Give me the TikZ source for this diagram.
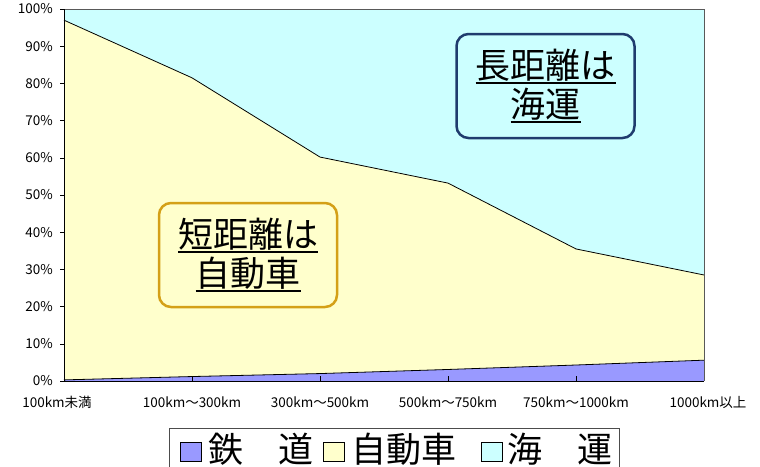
\documentclass[tikz,border=0pt]{standalone}
\usepackage{fontspec}
\setmainfont{Noto Sans CJK JP}
\definecolor{rail}{HTML}{9999FF}
\definecolor{car}{HTML}{FFFFCC}
\definecolor{sea}{HTML}{CCFFFF}
\definecolor{navy}{HTML}{1F3C6E}
\definecolor{gold}{HTML}{D4A017}
\newcommand{\ulbox}[1]{\setbox0\hbox{#1}\rlap{\rule[-6pt]{\wd0}{2.5pt}}\box0}

\begin{document}
\begin{tikzpicture}[x=1pt, y=-1pt,
	tick/.style = {font=\fontsize{13.5}{13.5}\selectfont, inner sep=0pt},
	note/.style = {draw, rounded corners=12pt, line width=2.5pt, minimum width=178pt, minimum height=104pt, align=center, font=\fontsize{35}{39}\selectfont},
	key/.style = {draw, line width=1pt, minimum width=21pt, minimum height=19pt, inner sep=0pt},
	keytext/.style = {anchor=west, font=\fontsize{35}{35}\selectfont, inner sep=0pt}]

		\useasboundingbox (0,0) rectangle (760,466);
		\fill[white] (0,0) rectangle (760,466);

		\begin{scope}[shift={(64,381)}, x=128pt, y=3.72pt]
			\fill[sea] (0,0) rectangle (5,100);
			\fill[car] (0,0) -- (0,97) -- (1,81.5) -- (2,60.2) -- (3,53.2) -- (4,35.5) -- (5,28.5) -- (5,0) -- cycle;
			\fill[rail] (0,0) -- (0,0.3) -- (1,1.2) -- (2,2) -- (3,3.1) -- (4,4.3) -- (5,5.6) -- (5,0) -- cycle;
			\draw[line width=0.8pt] (0,97) -- (1,81.5) -- (2,60.2) -- (3,53.2) -- (4,35.5) -- (5,28.5);
			\draw[line width=0.8pt] (0,0.3) -- (1,1.2) -- (2,2) -- (3,3.1) -- (4,4.3) -- (5,5.6);
			\draw[gray!70!black] (0,100) -- (5,100) -- (5,0);
			\draw (0,100) -- (0,0) -- (5,0);

			\foreach \p in {0,10,...,100} {
				\draw (0,\p) -- ++(-4pt,0);
				\node[tick, anchor=east] (y\p) at ([xshift=-11pt]0,\p) {\p\%};
			}
			\foreach \i in {1,...,4}
				\draw (\i,0) -- ++(0,5pt);

			\node[tick] (x0) at ([xshift=-7pt, yshift=-21pt]0,0) {100km未満};
			\node[tick] (x1) at ([yshift=-21pt]1,0) {100km〜300km};
			\node[tick] (x2) at ([yshift=-21pt]2,0) {300km〜500km};
			\node[tick] (x3) at ([yshift=-21pt]3,0) {500km〜750km};
			\node[tick] (x4) at ([yshift=-21pt]4,0) {750km〜1000km};
			\node[tick] (x5) at ([xshift=4pt, yshift=-21pt]5,0) {1000km以上};
		\end{scope}

		\node[note, draw=navy] (long) at (545.5,86) {\ulbox{長距離は}\\\ulbox{海運}};
		\node[note, draw=gold] (short) at (248,255) {\ulbox{短距離は}\\\ulbox{自動車}};

		\draw[gray!60!black] (169,428) rectangle (619,490);
		\node[key, fill=rail] (k1) at (190.5,452) {};
		\node[keytext] (t1) at (208,449) {鉄　道};
		\node[key, fill=car] (k2) at (334,452) {};
		\node[keytext] (t2) at (351,449) {自動車};
		\node[key, fill=sea] (k3) at (491.5,452) {};
		\node[keytext] (t3) at (507,449) {海　運};
	\end{tikzpicture}
\end{document}
